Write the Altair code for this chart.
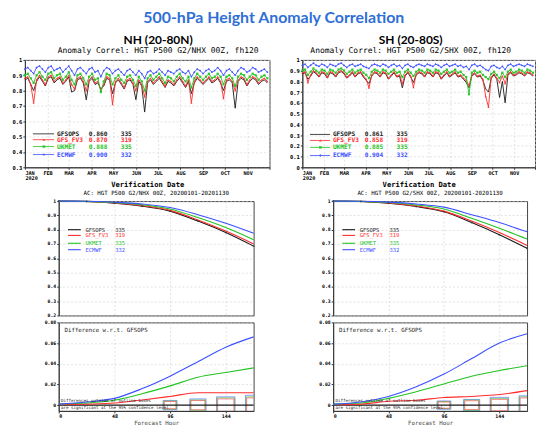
import altair as alt
import pandas as pd

MODELS = ["GFSOPS", "GFS_FV3", "UKMET", "ECMWF"]
COLORS = ["#1a1a1a", "#ff2d2d", "#22c322", "#3c50ff"]
SHAPES = ["circle", "triangle-up", "square", "diamond"]
MONO = "DejaVu Sans Mono"
START = pd.Timestamp("2020-01-01")
STEP_DAYS = 4

# ---------------- time series (every 4th day, Jan 1 - Nov 30 2020) -------------
NH_BLACK = [0.87,0.88,0.84,0.80,0.86,0.89,0.86,0.83,0.88,0.89,0.85,0.87,0.88,0.84,0.86,0.89,0.79,0.80,0.87,0.88,0.85,0.74,0.86,0.88,0.84,0.85,0.81,0.83,0.88,0.87,0.78,0.85,0.87,0.84,0.81,0.86,0.87,0.84,0.74,0.86,0.83,0.66,0.85,0.87,0.84,0.86,0.88,0.85,0.82,0.86,0.85,0.83,0.86,0.88,0.85,0.82,0.86,0.78,0.85,0.88,0.86,0.84,0.86,0.88,0.85,0.86,0.88,0.85,0.80,0.86,0.87,0.85,0.685,0.86,0.88,0.87,0.83,0.86,0.88,0.87,0.84,0.86,0.87,0.85]
NH_RED = [0.88,0.89,0.84,0.72,0.87,0.90,0.87,0.84,0.89,0.90,0.86,0.88,0.89,0.85,0.87,0.90,0.84,0.81,0.88,0.89,0.86,0.80,0.87,0.89,0.85,0.86,0.80,0.84,0.89,0.88,0.71,0.86,0.88,0.85,0.82,0.87,0.88,0.85,0.80,0.87,0.84,0.76,0.86,0.88,0.85,0.87,0.89,0.86,0.83,0.87,0.86,0.84,0.87,0.89,0.86,0.83,0.87,0.72,0.86,0.89,0.87,0.85,0.87,0.89,0.86,0.87,0.89,0.86,0.75,0.87,0.88,0.86,0.80,0.87,0.89,0.88,0.84,0.87,0.89,0.88,0.85,0.87,0.88,0.86]
NH_GREEN = [0.90,0.91,0.88,0.85,0.90,0.92,0.89,0.87,0.91,0.92,0.88,0.90,0.91,0.87,0.89,0.92,0.87,0.84,0.90,0.91,0.88,0.84,0.89,0.91,0.87,0.88,0.79,0.86,0.91,0.90,0.84,0.88,0.90,0.87,0.85,0.89,0.90,0.87,0.83,0.89,0.86,0.80,0.88,0.90,0.87,0.89,0.91,0.88,0.85,0.89,0.88,0.86,0.89,0.91,0.88,0.86,0.89,0.82,0.88,0.91,0.89,0.87,0.89,0.91,0.88,0.89,0.91,0.89,0.84,0.89,0.90,0.88,0.83,0.89,0.91,0.90,0.87,0.89,0.91,0.90,0.87,0.89,0.90,0.88]
NH_BLUE = [0.94,0.95,0.93,0.91,0.95,0.96,0.94,0.92,0.95,0.96,0.93,0.94,0.95,0.92,0.94,0.96,0.93,0.90,0.94,0.95,0.93,0.91,0.94,0.95,0.92,0.93,0.89,0.93,0.95,0.94,0.91,0.93,0.94,0.92,0.90,0.93,0.94,0.92,0.90,0.93,0.91,0.88,0.92,0.93,0.91,0.92,0.94,0.92,0.90,0.93,0.92,0.91,0.93,0.94,0.92,0.91,0.93,0.89,0.92,0.94,0.93,0.91,0.93,0.94,0.92,0.93,0.95,0.93,0.90,0.93,0.94,0.92,0.90,0.93,0.95,0.94,0.92,0.93,0.95,0.94,0.92,0.93,0.94,0.92]

SH_BLACK = [0.87,0.88,0.82,0.85,0.89,0.87,0.84,0.88,0.87,0.83,0.88,0.87,0.84,0.88,0.89,0.87,0.83,0.85,0.88,0.84,0.87,0.88,0.84,0.81,0.78,0.85,0.88,0.87,0.84,0.88,0.87,0.82,0.85,0.88,0.84,0.85,0.74,0.85,0.88,0.84,0.79,0.86,0.88,0.87,0.84,0.88,0.87,0.84,0.88,0.87,0.82,0.85,0.88,0.84,0.86,0.88,0.84,0.85,0.82,0.79,0.74,0.85,0.87,0.84,0.85,0.81,0.73,0.70,0.83,0.86,0.82,0.65,0.80,0.60,0.86,0.88,0.85,0.86,0.88,0.87,0.85,0.88,0.87,0.85]
SH_RED = [0.88,0.89,0.79,0.86,0.90,0.88,0.85,0.89,0.88,0.84,0.89,0.88,0.85,0.89,0.90,0.88,0.84,0.86,0.89,0.85,0.88,0.89,0.85,0.82,0.74,0.86,0.89,0.88,0.85,0.89,0.88,0.83,0.86,0.89,0.85,0.86,0.78,0.86,0.89,0.85,0.745,0.87,0.89,0.88,0.85,0.89,0.88,0.85,0.89,0.88,0.83,0.86,0.89,0.85,0.87,0.89,0.85,0.86,0.83,0.81,0.76,0.86,0.88,0.85,0.86,0.82,0.66,0.56,0.84,0.87,0.83,0.79,0.85,0.78,0.87,0.89,0.86,0.87,0.89,0.88,0.86,0.89,0.88,0.86]
SH_GREEN = [0.90,0.91,0.86,0.89,0.92,0.90,0.88,0.91,0.90,0.87,0.91,0.90,0.88,0.91,0.92,0.90,0.87,0.89,0.91,0.88,0.90,0.91,0.88,0.86,0.83,0.89,0.91,0.90,0.88,0.91,0.90,0.87,0.89,0.91,0.88,0.89,0.84,0.89,0.91,0.88,0.85,0.89,0.91,0.90,0.88,0.91,0.90,0.88,0.91,0.90,0.87,0.89,0.91,0.88,0.89,0.91,0.88,0.89,0.86,0.84,0.68,0.88,0.90,0.88,0.89,0.86,0.84,0.82,0.87,0.89,0.86,0.83,0.88,0.84,0.89,0.91,0.88,0.89,0.91,0.90,0.88,0.91,0.90,0.88]
SH_BLUE = [0.95,0.96,0.93,0.95,0.97,0.95,0.94,0.96,0.95,0.93,0.96,0.95,0.94,0.96,0.97,0.95,0.93,0.95,0.96,0.94,0.95,0.96,0.94,0.93,0.92,0.95,0.96,0.95,0.94,0.96,0.95,0.93,0.95,0.96,0.94,0.95,0.92,0.95,0.96,0.94,0.93,0.95,0.96,0.95,0.94,0.96,0.95,0.94,0.96,0.95,0.93,0.95,0.96,0.94,0.95,0.96,0.94,0.95,0.93,0.94,0.91,0.95,0.96,0.94,0.95,0.93,0.91,0.90,0.94,0.95,0.93,0.92,0.94,0.91,0.95,0.96,0.94,0.95,0.96,0.95,0.94,0.96,0.95,0.94]

NH_STATS = [("0.860", "335"), ("0.870", "319"), ("0.888", "335"), ("0.900", "332")]
SH_STATS = [("0.861", "335"), ("0.858", "319"), ("0.885", "335"), ("0.904", "332")]
COUNTS = ["335", "319", "335", "332"]

# ---------------- die-off curves -------------
FH = [0, 24, 48, 72, 96, 120, 144, 168]
NH_DIE_BLACK = [1.0, 0.997, 0.985, 0.965, 0.930, 0.860, 0.780, 0.685]
NH_DIE_RED = [1.0, 0.998, 0.987, 0.968, 0.935, 0.868, 0.790, 0.700]
NH_DIE_GREEN = [1.0, 0.998, 0.990, 0.975, 0.945, 0.885, 0.815, 0.730]
NH_DIE_BLUE = [1.0, 0.999, 0.992, 0.980, 0.955, 0.905, 0.845, 0.775]
SH_DIE_BLACK = [1.0, 0.997, 0.985, 0.962, 0.925, 0.850, 0.765, 0.670]
SH_DIE_RED = [1.0, 0.998, 0.987, 0.966, 0.930, 0.860, 0.780, 0.690]
SH_DIE_GREEN = [1.0, 0.998, 0.990, 0.973, 0.945, 0.880, 0.810, 0.735]
SH_DIE_BLUE = [1.0, 0.999, 0.993, 0.980, 0.958, 0.905, 0.850, 0.785]

# ---------------- differences w.r.t. GFSOPS -------------
NH_DIFF_BLACK = [0, 0, 0, 0, 0, 0, 0, 0]
NH_DIFF_RED = [0.0005, 0.001, 0.002, 0.005, 0.0084, 0.012, 0.012, 0.012]
NH_DIFF_GREEN = [0.001, 0.002, 0.0047, 0.011, 0.0186, 0.027, 0.0316, 0.036]
NH_DIFF_BLUE = [0.001, 0.003, 0.0065, 0.016, 0.028, 0.042, 0.056, 0.066]
SH_DIFF_BLACK = [0, 0, 0, 0, 0, 0, 0, 0]
SH_DIFF_RED = [0.0005, 0.001, 0.0037, 0.0047, 0.0074, 0.0084, 0.0102, 0.014]
SH_DIFF_GREEN = [0.001, 0.002, 0.0065, 0.013, 0.0205, 0.028, 0.0335, 0.038]
SH_DIFF_BLUE = [0.001, 0.003, 0.0084, 0.0177, 0.030, 0.045, 0.060, 0.069]

BOX_FH = [96, 120, 144, 168]
BOX_HW = {"ECMWF": [6, 7, 8, 7], "UKMET": [5.5, 6.5, 7.5, 6.5], "GFS_FV3": [5, 6, 7, 6]}
NH_BOX_HH = {"ECMWF": [0.0045, 0.006, 0.008, 0.0095], "UKMET": [0.004, 0.005, 0.007, 0.008], "GFS_FV3": [0.0035, 0.0045, 0.006, 0.007]}
SH_BOX_HH = {"ECMWF": [0.004, 0.0055, 0.0075, 0.009], "UKMET": [0.0035, 0.005, 0.0065, 0.008], "GFS_FV3": [0.003, 0.0042, 0.0055, 0.007]}

color_scale = alt.Scale(domain=MODELS, range=COLORS)


def ts_frame(series):
    rows = []
    for m, vals in zip(MODELS, series):
        for i, v in enumerate(vals):
            d = START + pd.Timedelta(days=STEP_DAYS * i)
            rows.append({"date": d.strftime("%Y-%m-%dT00:00:00"), "model": m, "v": v})
    return pd.DataFrame(rows)


def fh_frame(series):
    rows = []
    for m, vals in zip(MODELS, series):
        for h, v in zip(FH, vals):
            rows.append({"fh": h, "model": m, "v": v})
    return pd.DataFrame(rows)


def top_panel(series, stats, ymin, yvals, leg_y, title, subtitle, tdx, width):
    df = ts_frame(series)
    xscale = alt.Scale(domain=[alt.DateTime(year=2020, month=1, date=1),
                               alt.DateTime(year=2020, month=12, date=1)])
    xaxis = alt.Axis(title="Verification Date", tickCount={"interval": "month", "step": 1},
                     labelExpr="month(datum.value)==0 ? ['JAN','2020'] : (month(datum.value)==11 ? '' : upper(timeFormat(datum.value, '%b')))",
                     labelFontSize=5.2, labelLineHeight=5, titleFontSize=7.2, labelFontWeight="bold",
                     titleFontWeight="bold", titlePadding=0)
    yscale = alt.Scale(domain=[ymin, 1], nice=False, zero=False)
    yaxis = alt.Axis(values=yvals, format="~g", title=None, labelFontSize=5.5, labelFontWeight="bold")

    def X(f):
        return alt.X(f, scale=xscale, axis=xaxis)

    def Y(f):
        return alt.Y(f, scale=yscale, axis=yaxis)

    layers = []
    for k, m in enumerate(MODELS):
        sub = df[df.model == m]
        base = alt.Chart(sub)
        layers.append(base.mark_line(strokeWidth=0.9, color=COLORS[k]).encode(x=X("date:T"), y=Y("v:Q")))
        if k > 0:
            layers.append(base.mark_point(filled=True, size=5, shape=SHAPES[k], color=COLORS[k], opacity=0.9)
                          .encode(x=X("date:T"), y=Y("v:Q")))
    leg = pd.DataFrame({
        "model": MODELS, "y": leg_y,
        "x1": ["2020-01-12T00:00:00"] * 4, "x2": ["2020-02-10T00:00:00"] * 4,
        "xm": ["2020-01-27T00:00:00"] * 4, "xt": ["2020-02-14T00:00:00"] * 4,
        "score": [s[0] for s in stats], "n": [s[1] for s in stats],
    })
    c = alt.Color("model:N", scale=color_scale, legend=None)
    lb = alt.Chart(leg)
    layers.append(lb.mark_rule(strokeWidth=0.8).encode(x=X("x1:T"), x2="x2:T", y=Y("y:Q"), color=c))
    layers.append(lb.transform_filter("datum.model != 'GFSOPS'").mark_point(filled=True, size=8)
                  .encode(x=X("xm:T"), y=Y("y:Q"), color=c,
                          shape=alt.Shape("model:N", scale=alt.Scale(domain=MODELS, range=SHAPES), legend=None)))
    for field, dx in (("model", 0), ("score", 32), ("n", 64)):
        layers.append(lb.mark_text(align="left", baseline="middle", font=MONO, fontSize=6.2, fontWeight="bold", dx=dx)
                      .encode(x=X("xt:T"), y=Y("y:Q"), text=f"{field}:N", color=c))
    return alt.layer(*layers).properties(
        width=width, height=108,
        title=alt.TitleParams(text=title, subtitle=subtitle, font="Lato", fontSize=12, fontWeight="bold",
                              color="black", subtitleFont=MONO, subtitleFontSize=8, subtitleColor="black",
                              subtitlePadding=0, dx=tdx, anchor="middle", offset=2))


def mid_panel(series, leg_y, title, width):
    df = fh_frame(series)
    xscale = alt.Scale(domain=[0, 168], nice=False)
    xaxis = alt.Axis(values=[0, 48, 96, 144], labels=False, ticks=False, domain=False, title=None)
    yscale = alt.Scale(domain=[0.2, 1], nice=False, zero=False)
    yaxis = alt.Axis(values=[0.2, 0.3, 0.4, 0.5, 0.6, 0.7, 0.8, 0.9, 1], format="~g", title=None,
                     labelFontSize=4.8, labelFontWeight="bold")

    def X(f):
        return alt.X(f, scale=xscale, axis=xaxis)

    def Y(f):
        return alt.Y(f, scale=yscale, axis=yaxis)

    layers = []
    for k, m in enumerate(MODELS):
        sub = df[df.model == m]
        layers.append(alt.Chart(sub).mark_line(strokeWidth=1.1, color=COLORS[k], interpolate="monotone")
                      .encode(x=X("fh:Q"), y=Y("v:Q")))
    layers.append(alt.Chart(df[df.model == "GFSOPS"]).mark_point(filled=True, size=4, color="#333")
                  .encode(x=X("fh:Q"), y=Y("v:Q")))
    leg = pd.DataFrame({"model": MODELS, "y": leg_y, "x1": [8] * 4, "x2": [19] * 4, "xt": [23] * 4, "n": COUNTS})
    c = alt.Color("model:N", scale=color_scale, legend=None)
    lb = alt.Chart(leg)
    layers.append(lb.mark_rule(strokeWidth=1.1).encode(x=X("x1:Q"), x2="x2:Q", y=Y("y:Q"), color=c))
    layers.append(lb.mark_text(align="left", baseline="middle", font=MONO, fontSize=5.5)
                  .encode(x=X("xt:Q"), y=Y("y:Q"), text="model:N", color=c))
    layers.append(lb.mark_text(align="left", baseline="middle", font=MONO, fontSize=5.5, dx=30)
                  .encode(x=X("xt:Q"), y=Y("y:Q"), text="n:N", color=c))
    return alt.layer(*layers).properties(
        width=width, height=115,
        title=alt.TitleParams(text=title, font=MONO, fontSize=5.8, fontWeight="normal", color="black",
                              anchor="middle", offset=2))


def diff_panel(series, box_hh, width):
    df = fh_frame(series)
    xscale = alt.Scale(domain=[0, 168], nice=False)
    xaxis = alt.Axis(values=[0, 48, 96, 144], title="Forecast Hour", labelFontSize=5, titleFontSize=5.8,
                     labelFontWeight="bold", titleFontWeight="normal", titleColor="#444", titlePadding=1)
    yscale = alt.Scale(domain=[-0.0056, 0.08], nice=False, zero=False)
    yaxis = alt.Axis(values=[0, 0.02, 0.04, 0.06, 0.08], format="~g", title=None, labelFontSize=4.8,
                     labelFontWeight="bold")

    def X(f):
        return alt.X(f, scale=xscale, axis=xaxis)

    def Y(f):
        return alt.Y(f, scale=yscale, axis=yaxis)

    layers = []
    rows = []
    for m in ["ECMWF", "UKMET", "GFS_FV3"]:
        for h, hw, hh in zip(BOX_FH, BOX_HW[m], box_hh[m]):
            rows.append({"model": m, "a": h - hw, "b": h + hw, "lo": -hh, "hi": hh})
    boxes = pd.DataFrame(rows)
    layers.append(alt.Chart(boxes).mark_rect(filled=False, strokeWidth=0.7, clip=True, opacity=0.8)
                  .encode(x=X("a:Q"), x2="b:Q", y=Y("lo:Q"), y2="hi:Q",
                          color=alt.Color("model:N", scale=color_scale, legend=None)))
    for k, m in enumerate(MODELS):
        sub = df[df.model == m]
        layers.append(alt.Chart(sub).mark_line(strokeWidth=1.1, color=COLORS[k], interpolate="monotone")
                      .encode(x=X("fh:Q"), y=Y("v:Q")))
    notes = pd.DataFrame({"x": [5, 2, 2], "y": [0.0725, 0.0036, -0.0026],
                          "t": ["Difference w.r.t. GFSOPS",
                                "Differences outside of outline boxes",
                                "are significant at the 95% confidence level"],
                          "s": [5.8, 4.2, 4.2]})
    layers.append(alt.Chart(notes).mark_text(align="left", baseline="middle", font=MONO, color="#222")
                  .encode(x=X("x:Q"), y=Y("y:Q"), text="t:N", size=alt.Size("s:Q", scale=None, legend=None)))
    return alt.layer(*layers).properties(width=width, height=89)


def spacer(w):
    return alt.Chart(pd.DataFrame({"s": [0]})).mark_point(opacity=0).encode(
        x=alt.X("s:Q", axis=None), y=alt.Y("s:Q", axis=None)
    ).properties(width=w, height=1, view=alt.ViewBackground(stroke="transparent"))


def column(series, stats, ymin, yvals, leg_y, title, subtitle, tdx, top_w,
           die, mid_leg_y, mid_title, diffs, box_hh, low_w, sp_w):
    top = top_panel(series, stats, ymin, yvals, leg_y, title, subtitle, tdx, top_w)
    mid = mid_panel(die, mid_leg_y, mid_title, low_w)
    bot = diff_panel(diffs, box_hh, low_w)
    lower = alt.hconcat(spacer(sp_w), alt.vconcat(mid, bot, spacing=0), spacing=0)
    return alt.vconcat(top, lower, spacing=1)


left = column([NH_BLACK, NH_RED, NH_GREEN, NH_BLUE], NH_STATS, 0.3,
              [0.3, 0.4, 0.5, 0.6, 0.7, 0.8, 0.9, 1], [0.518, 0.48, 0.435, 0.383],
              "NH (20-80N)", "Anomaly Correl: HGT P500 G2/NHX 00Z, fh120", 11, 246,
              [NH_DIE_BLACK, NH_DIE_RED, NH_DIE_GREEN, NH_DIE_BLUE], [0.80, 0.76, 0.705, 0.66],
              "AC: HGT P500 G2/NHX 00Z, 20200101-20201130",
              [NH_DIFF_BLACK, NH_DIFF_RED, NH_DIFF_GREEN, NH_DIFF_BLUE], NH_BOX_HH, 196, 17)

right = column([SH_BLACK, SH_RED, SH_GREEN, SH_BLUE], SH_STATS, 0.0,
               [0, 0.1, 0.2, 0.3, 0.4, 0.5, 0.6, 0.7, 0.8, 0.9, 1], [0.306, 0.25, 0.185, 0.11],
               "SH (20-80S)", "Anomaly Correl: HGT P500 G2/SHX 00Z, fh120", -8, 234,
               [SH_DIE_BLACK, SH_DIE_RED, SH_DIE_GREEN, SH_DIE_BLUE], [0.80, 0.76, 0.705, 0.66],
               "AC: HGT P500 G2/SHX 00Z, 20200101-20201130",
               [SH_DIFF_BLACK, SH_DIFF_RED, SH_DIFF_GREEN, SH_DIFF_BLUE], SH_BOX_HH, 195, 14)

chart = alt.hconcat(left, right, spacing=18).properties(
    title=alt.TitleParams("500-hPa Height Anomaly Correlation", font="Lato", fontSize=16, fontWeight="bold",
                          color="#2f6fd6", anchor="middle", offset=5, dy=-3),
    padding={"left": 3, "top": 0, "right": 0, "bottom": 0},
).configure_axis(
    labelFont=MONO, titleFont=MONO, labelColor="black", titleColor="black",
    domainColor="#333", tickColor="#333", tickSize=2, labelPadding=1, titlePadding=2,
    gridColor="#cfcfcf", gridDash=[2, 2], gridWidth=0.6, minExtent=0,
).configure_view(stroke="#444", strokeWidth=1)

chart.save("out.html", embed_options={"renderer": "svg", "actions": False})
